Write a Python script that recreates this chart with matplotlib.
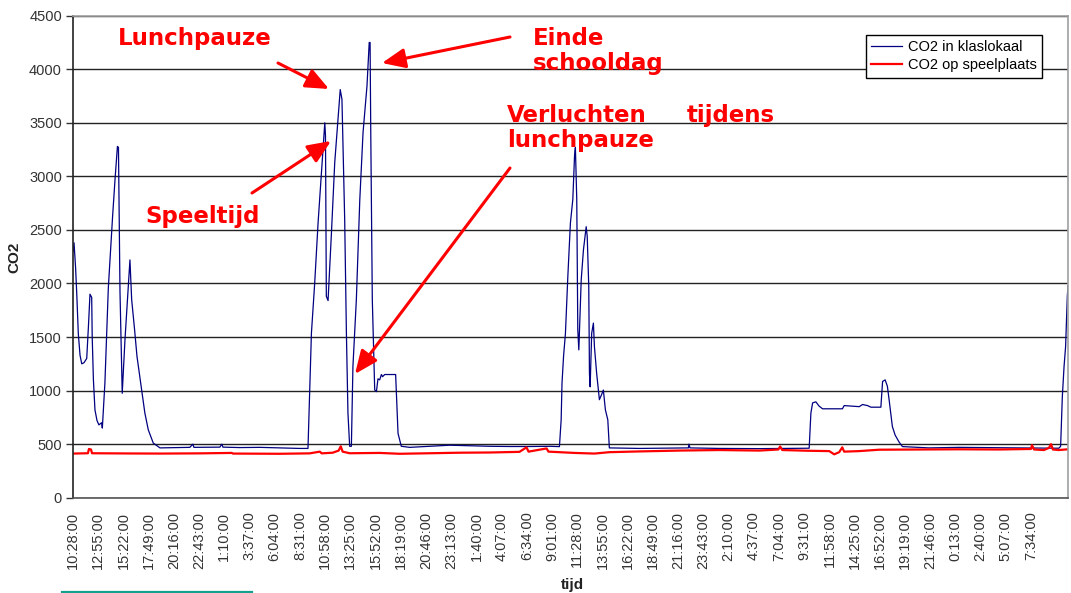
import numpy as np
import matplotlib
matplotlib.use("Agg")
import matplotlib.pyplot as plt
from matplotlib.lines import Line2D

# minutes since 10:28:00 on the first day
blue_min = [0, 6, 15, 22, 31, 41, 51, 64, 80, 90, 99, 109, 112, 119, 128, 140, 151, 167, 171, 186,
            206, 231, 245, 259, 265, 274, 287, 303, 323, 332, 342, 359, 373, 400, 419, 439, 468, 507,
            681, 699, 705, 856, 868, 874, 973, 1089, 1206, 1322, 1370, 1390, 1409, 1429, 1448, 1468,
            1472, 1477, 1487, 1507, 1526, 1539, 1558, 1568, 1584, 1594, 1603, 1613, 1623, 1632, 1652,
            1672, 1691, 1714, 1727, 1732, 1736, 1745, 1759, 1769, 1778, 1788, 1798, 1805, 1817, 1881,
            1895, 1914, 1963, 2079, 2196, 2312, 2429, 2545, 2662, 2778, 2836, 2846, 2851, 2860, 2871,
            2885, 2900, 2914, 2924, 2929, 2937, 2943, 2949, 2963, 2976, 2992, 2998, 3007, 3011, 3015,
            3024, 3034, 3040, 3053, 3069, 3081, 3092, 3104, 3118, 3127, 3302, 3419, 3588, 3591, 3597,
            3768, 4001, 4176, 4292, 4302, 4312, 4331, 4350, 4370, 4486, 4496, 4584, 4603, 4632, 4652,
            4710, 4720, 4735, 4748, 4758, 4777, 4793, 4816, 4836, 4991, 5166, 5341, 5515, 5690, 5748,
            5758, 5768, 5778, 5787, 5797, 5801]
blue_co2 = [2300, 2380, 2150, 1900, 1530, 1330, 1250, 1260, 1300, 1600, 1900, 1870, 1500, 1100, 820,
            720, 680, 700, 650, 1070, 1960, 2630, 2970, 3280, 3270, 1920, 975, 1475, 2000, 2220, 1850,
            1570, 1320, 1007, 790, 633, 510, 465,
            470, 500, 470, 472, 500, 472, 468, 470, 465, 460, 460, 1535, 2000, 2570, 3030, 3500,
            3380, 1880, 1840, 2480, 3130, 3410, 3810, 3720, 2595, 1535, 790, 480, 480, 1225, 1850,
            2780, 3410, 3845, 4250, 4250, 3410, 1850, 1007, 990, 1110, 1100, 1150, 1130, 1150, 1150,
            600, 480, 470, 480, 490, 485, 480, 478, 478, 480, 477, 727, 1070, 1320, 1535,
            2067, 2565, 2785, 3190, 3270, 2785, 1570, 1380, 2035, 2315, 2530, 2440, 1970, 1160, 1035,
            1535, 1630, 1410, 1160, 915, 960, 1005, 820, 727, 465, 460, 462, 465, 500, 465,
            460, 458, 460, 462, 790, 885, 895, 855, 830, 830, 860, 850, 870, 860, 845,
            845, 1085, 1100, 1040, 915, 665, 585, 520, 477, 465, 470, 468, 465, 462, 462,
            480, 945, 1225, 1410, 1880, 1980]

red_min = [0, 87, 93, 105, 111, 332, 507, 740, 926, 932, 1206, 1380, 1439, 1450, 1514, 1549, 1561,
           1572, 1613, 1788, 1904, 2079, 2254, 2429, 2603, 2644, 2656, 2761, 2772, 2836, 2923, 3040,
           3127, 3302, 3535, 3768, 4001, 4112, 4123, 4135, 4292, 4409, 4438, 4467, 4485, 4496, 4584,
           4700, 4933, 5166, 5399, 5585, 5591, 5603, 5661, 5690, 5702, 5713, 5748, 5801]
red_co2 = [412, 415, 455, 450, 415, 413, 412, 414, 418, 412, 410, 414, 430, 414, 420, 440, 480,
           430, 415, 418, 410, 415, 420, 422, 428, 470, 430, 460, 430, 425, 418, 412,
           425, 432, 440, 445, 440, 450, 478, 445, 438, 435, 405, 425, 470, 430, 435,
           448, 450, 452, 450, 455, 490, 450, 445, 465, 500, 450, 445, 452]

tick_labels = ["10:28:00", "12:55:00", "15:22:00", "17:49:00", "20:16:00", "22:43:00", "1:10:00",
               "3:37:00", "6:04:00", "8:31:00", "10:58:00", "13:25:00", "15:52:00", "18:19:00",
               "20:46:00", "23:13:00", "1:40:00", "4:07:00", "6:34:00", "9:01:00", "11:28:00",
               "13:55:00", "16:22:00", "18:49:00", "21:16:00", "23:43:00", "2:10:00", "4:37:00",
               "7:04:00", "9:31:00", "11:58:00", "14:25:00", "16:52:00", "19:19:00", "21:46:00",
               "0:13:00", "2:40:00", "5:07:00", "7:34:00"]
tick_step = 147  # minutes between labels

W, H = 1071, 593


def fx(x):
    return x / W


def fy(y):
    return 1 - y / H


fig = plt.figure(figsize=(W / 100, H / 100), dpi=100)
ax = fig.add_axes([fx(73), fy(497.7), fx(1068) - fx(73), fy(15.7) - fy(497.7)])

ax.plot(blue_min, blue_co2, color="#000080", lw=0.9, label="CO2 in klaslokaal")
ax.plot(red_min, red_co2, color="#ff0000", lw=1.6, label="CO2 op speelplaats")

ax.set_xlim(0, 5801)
ax.set_ylim(0, 4500)
ax.set_yticks(np.arange(0, 4501, 500))
ax.set_xticks(np.arange(len(tick_labels)) * tick_step)
ax.set_xticklabels(tick_labels, rotation=90, family="Liberation Sans", fontsize=10.5, color="#333333")
for lab in ax.get_yticklabels():
    lab.set_family("Liberation Sans")
    lab.set_fontsize(10.5)
    lab.set_color("#333333")
ax.tick_params(axis="x", length=0, pad=10)
ax.tick_params(axis="y", length=5, width=1, pad=3, color="#333333")
ax.yaxis.grid(True, color="#222222", lw=1)
ax.set_axisbelow(True)

ax.spines["left"].set_color("#222222")
ax.spines["bottom"].set_color("#555555")
ax.spines["top"].set_color("#a0a0a0")
ax.spines["right"].set_color("#a0a0a0")
for s in ax.spines.values():
    s.set_linewidth(1.2)

fig.text(fx(14), fy(257), "CO2", rotation=90, ha="center", va="center", fontsize=11,
         fontweight="bold", family="Liberation Sans", color="#222222")
fig.text(fx(572), fy(585), "tijd", ha="center", va="center", fontsize=11,
         fontweight="bold", family="Liberation Sans", color="#222222")

leg = ax.legend(loc="upper left", bbox_to_anchor=(fx(866), fy(35)), bbox_transform=fig.transFigure,
                prop={"family": "Liberation Sans", "size": 10.5}, frameon=True, fancybox=False,
                edgecolor="black", framealpha=1, handlelength=2.1, handletextpad=0.4,
                labelspacing=0.3, borderpad=0.35, borderaxespad=0)
leg.get_frame().set_linewidth(1)

# red annotations
txt = dict(color="#ff0000", fontsize=16.5, fontweight="bold", family="DejaVu Sans", va="baseline")
fig.text(fx(118), fy(45), "Lunchpauze", **txt)
fig.text(fx(145), fy(223), "Speeltijd", **txt)
fig.text(fx(533), fy(45), "Einde", **txt)
fig.text(fx(533), fy(70), "schooldag", **txt)
fig.text(fx(507), fy(122), "Verluchten", **txt)
fig.text(fx(687), fy(122), "tijdens", **txt)
fig.text(fx(507), fy(147), "lunchpauze", **txt)

arrows = [((278, 63), (329, 89)),
          ((252, 193), (331, 141)),
          ((510, 37), (382, 63)),
          ((510, 168), (355, 374))]
for (x0, y0), (x1, y1) in arrows:
    ax.annotate("", xy=(fx(x1), fy(y1)), xytext=(fx(x0), fy(y0)),
                xycoords="figure fraction", textcoords="figure fraction",
                arrowprops=dict(arrowstyle="-|>,head_length=0.7,head_width=0.3",
                                color="#ff0000", lw=2.2, mutation_scale=20,
                                shrinkA=0, shrinkB=0))

fig.add_artist(Line2D([fx(62), fx(252)], [fy(592), fy(592)], color="#14a08c", lw=1.6))

fig.savefig("out.png", dpi=100)
